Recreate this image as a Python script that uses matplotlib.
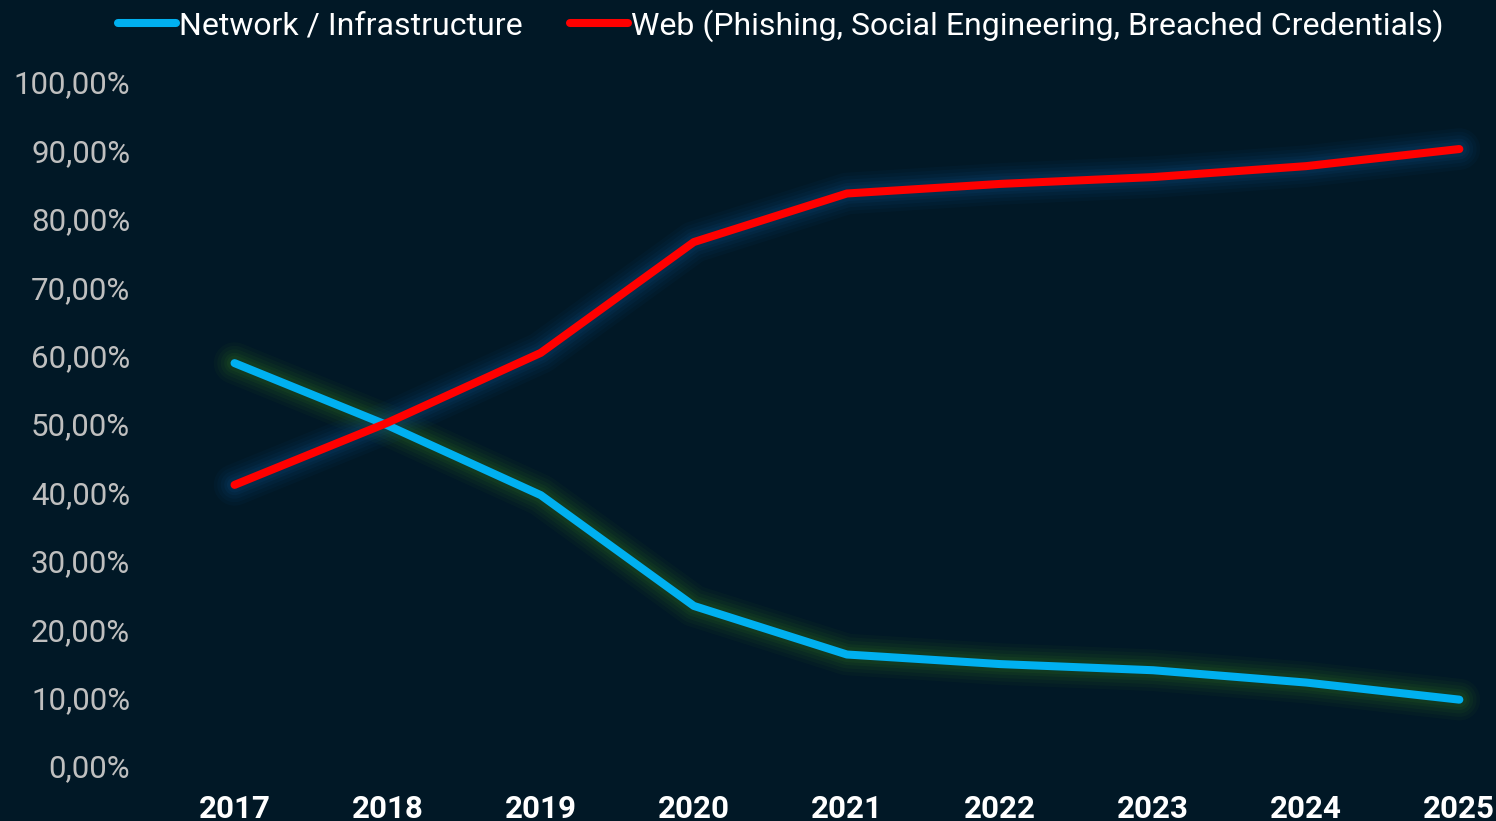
import matplotlib
matplotlib.use("Agg")
import matplotlib.pyplot as plt
from matplotlib.ticker import FuncFormatter, MultipleLocator

years = ["2017", "2018", "2019", "2020", "2021", "2022", "2023", "2024", "2025"]
network = [58.9, 49.8, 39.6, 23.4, 16.3, 14.9, 14.0, 12.2, 9.7]
web = [41.1, 50.2, 60.4, 76.6, 83.7, 85.1, 86.1, 87.7, 90.2]
series_names = ["Network / Infrastructure",
                "Web (Phishing, Social Engineering, Breached Credentials)"]

BG = "#011826"
CYAN = "#00B0F0"
RED = "#FF0000"

plt.rcParams["font.family"] = ["Roboto", "DejaVu Sans"]

W, H = 1496, 821
fig = plt.figure(figsize=(W / 100, H / 100), dpi=100, facecolor=BG)
left_px, right_px = 158, W
bottom_px, top_px = 766, 82
ax = fig.add_axes([left_px / W, 1 - bottom_px / H,
                   (right_px - left_px) / W, (bottom_px - top_px) / H])
ax.set_facecolor(BG)

x = list(range(len(years)))
spacing = 153.1
ax.set_xlim(-0.5, -0.5 + (right_px - left_px) / spacing)
ax.set_ylim(0, 100)

def glow(xs, ys, color):
    for lw, a in [(30, 0.07), (25, 0.08), (20, 0.10), (15, 0.13), (11, 0.15)]:
        ax.plot(xs, ys, color=color, lw=lw, alpha=a, solid_capstyle="round",
                solid_joinstyle="round", zorder=1)

glow(x, network, "#2e6b1c")
glow(x, web, "#0d4a80")

ax.plot(x, network, color=CYAN, lw=5.8, solid_capstyle="round",
        solid_joinstyle="round", zorder=3, label=series_names[0])
ax.plot(x, web, color=RED, lw=5.8, solid_capstyle="round",
        solid_joinstyle="round", zorder=4, label=series_names[1])

ax.yaxis.set_major_locator(MultipleLocator(10))
ax.yaxis.set_major_formatter(FuncFormatter(lambda v, p: f"{v:.2f}%".replace(".", ",")))
ax.set_xticks(x)
ax.set_xticklabels(years)
ax.tick_params(axis="y", length=0, pad=20, labelsize=22.5, labelcolor="#BFBFBF")
ax.tick_params(axis="x", length=0, pad=20, labelsize=22.5, labelcolor="white")
for t in ax.get_xticklabels():
    t.set_fontweight("bold")
for s in ax.spines.values():
    s.set_visible(False)
ax.grid(False)

leg = fig.legend(loc="upper center", bbox_to_anchor=(0.522, 1.024), ncol=2,
                 frameon=False, fontsize=23, labelcolor="white",
                 handlelength=1.8, handletextpad=0.1, columnspacing=1.5)

fig.savefig("out.png", dpi=100, facecolor=BG)
